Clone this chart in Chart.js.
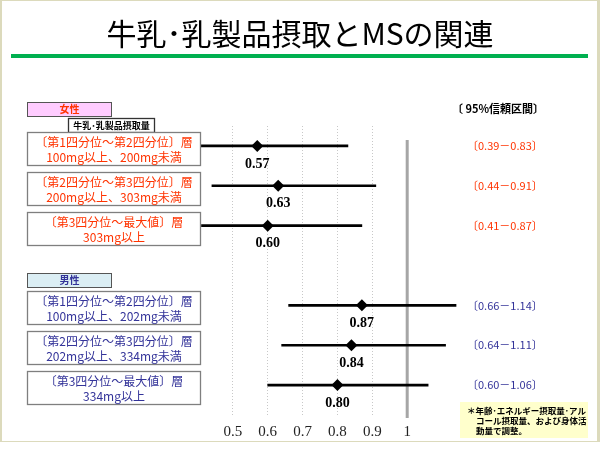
<!DOCTYPE html>
<html>
<head>
<meta charset="utf-8">
<script src="https://cdn.jsdelivr.net/npm/chart.js@4/dist/chart.umd.min.js"></script>
<style>
  html, body { margin: 0; padding: 0; background: #fff; }
  canvas { display: block; }
</style>
</head>
<body>
<canvas id="chart" width="600" height="450"></canvas>
<script>
// data
const strata = ['〔第1四分位～第2四分位〕層', '〔第2四分位～第3四分位〕層', '〔第3四分位～最大値〕層'];
const femaleRanges = ['100mg以上、200mg未満', '200mg以上、303mg未満', '303mg以上'];
const maleRanges = ['100mg以上、202mg未満', '202mg以上、334mg未満', '334mg以上'];
const femaleOR = [0.57, 0.63, 0.60];
const femaleLow = [0.39, 0.44, 0.41];
const femaleHigh = [0.83, 0.91, 0.87];
const maleOR = [0.87, 0.84, 0.80];
const maleLow = [0.66, 0.64, 0.60];
const maleHigh = [1.14, 1.11, 1.06];
const xTicks = [0.5, 0.6, 0.7, 0.8, 0.9, 1];

const rowKeys = ['女性1', '女性2', '女性3', '', '男性1', '男性2', '男性3'];
const FEMALE = '#ff3300';
const MALE = '#333399';
const JP = '"Noto Sans CJK JP", "Noto Sans", sans-serif';
const SERIF = '"Liberation Serif", "DejaVu Serif", serif';

const orData = [...femaleOR, null, ...maleOR];
const ciData = [
    ...femaleLow.map((lo, i) => [lo, femaleHigh[i]]),
    null,
    ...maleLow.map((lo, i) => [lo, maleHigh[i]])
];

function rect(ctx, x, y, w, h, fill, stroke, lw) {
    if (fill) { ctx.fillStyle = fill; ctx.fillRect(x, y, w, h); }
    if (stroke) { ctx.strokeStyle = stroke; ctx.lineWidth = lw || 1; ctx.strokeRect(x, y, w, h); }
}

function text(ctx, str, x, y, font, color, align) {
    ctx.font = font;
    ctx.fillStyle = color;
    ctx.textAlign = align || 'left';
    ctx.textBaseline = 'middle';
    ctx.fillText(str, x, y);
}

const slide = {
    id: 'slide',
    beforeDraw(chart) {
        const ctx = chart.ctx;
        ctx.save();
        ctx.fillStyle = '#fff';
        ctx.fillRect(0, 0, 600, 450);
        // beige frame
        ctx.fillStyle = '#dcdabc';
        ctx.fillRect(0, 0, 600, 1);
        ctx.fillRect(0, 0, 2, 442);
        ctx.fillRect(597, 0, 3, 442);
        ctx.fillRect(0, 441, 600, 1);
        // green rule under the title
        ctx.fillStyle = '#00b050';
        ctx.fillRect(11, 54, 577, 4);
        ctx.restore();
    },
    beforeDatasetsDraw(chart) {
        const ctx = chart.ctx;
        const x1 = chart.scales.x.getPixelForValue(1);
        ctx.save();
        ctx.strokeStyle = '#a6a6a6';
        ctx.lineWidth = 3;
        ctx.beginPath();
        ctx.moveTo(x1, 140);
        ctx.lineTo(x1, 418);
        ctx.stroke();
        ctx.restore();
    },
    afterDraw(chart) {
        const ctx = chart.ctx;
        const xs = chart.scales.x;
        const ys = chart.scales.y;
        ctx.save();

        // group headers
        rect(ctx, 27.5, 102.5, 84, 14, '#ffccff', '#555', 1);
        text(ctx, '女性', 69.5, 109.5, 'bold 10px ' + JP, FEMALE, 'center');
        rect(ctx, 68.5, 118.5, 86, 14, '#fff', '#333', 1.3);
        text(ctx, '牛乳･乳製品摂取量', 111.5, 125.5, 'bold 9px ' + JP, '#000', 'center');
        rect(ctx, 27.5, 273.5, 84, 14, '#dbeef4', '#555', 1);
        text(ctx, '男性', 69.5, 280.5, 'bold 10px ' + JP, MALE, 'center');

        text(ctx, '〔 95%信頼区間〕', 452, 109, 'bold 11px ' + JP, '#000');

        const groups = [
            { start: 0, ranges: femaleRanges, or: femaleOR, lo: femaleLow, hi: femaleHigh, color: FEMALE },
            { start: 4, ranges: maleRanges, or: maleOR, lo: maleLow, hi: maleHigh, color: MALE }
        ];
        groups.forEach(g => {
            g.or.forEach((v, i) => {
                const y = ys.getPixelForValue(g.start + i);
                const cy = Math.round(y + 3);
                rect(ctx, 27.5, cy - 16.5, 173, 33, '#fff', '#7f7f7f', 1.3);
                text(ctx, strata[i], 114, cy - 7, '12px ' + JP, g.color, 'center');
                text(ctx, g.ranges[i], 114, cy + 8, '12px ' + JP, g.color, 'center');

                text(ctx, v.toFixed(2), xs.getPixelForValue(v), y + 18, 'bold 14px ' + SERIF, '#000', 'center');
                text(ctx, '〔' + g.lo[i].toFixed(2) + '－' + g.hi[i].toFixed(2) + '〕', 467, y, '11px ' + JP, g.color);
            });
        });

        // footnote
        rect(ctx, 460, 402, 128, 36, '#ffffcc');
        text(ctx, '＊年齢･エネルギー摂取量･アル', 467, 411, 'bold 8.5px ' + JP, '#000');
        text(ctx, 'コール摂取量、および身体活', 476, 421, 'bold 8.5px ' + JP, '#000');
        text(ctx, '動量で調整。', 476, 431, 'bold 8.5px ' + JP, '#000');

        ctx.restore();
    }
};

new Chart(document.getElementById('chart'), {
    data: {
        labels: rowKeys,
        datasets: [
            {
                type: 'bar',
                label: '95%信頼区間',
                data: ciData,
                backgroundColor: '#000',
                borderWidth: 0,
                barThickness: 2
            },
            {
                type: 'line',
                label: 'オッズ比',
                data: orData,
                showLine: false,
                pointStyle: 'rectRot',
                pointRadius: 6,
                pointBackgroundColor: '#000',
                pointBorderColor: '#000',
                pointBorderWidth: 0
            }
        ]
    },
    options: {
        indexAxis: 'y',
        responsive: false,
        animation: false,
        layout: { padding: { top: 0, bottom: 1, left: 0, right: 0 } },
        scales: {
            x: {
                type: 'linear',
                min: 0.38,
                max: 1.16,
                afterBuildTicks: s => { s.ticks = xTicks.map(v => ({ value: v })); },
                grid: {
                    color: c => (c.tick && c.tick.value === 1) ? 'rgba(0,0,0,0)' : '#c8c8c8',
                    tickColor: c => (c.tick && c.tick.value === 1) ? 'rgba(0,0,0,0)' : '#c8c8c8',
                    tickLength: 10,
                    tickBorderDash: [1, 2]
                },
                border: { display: false, dash: [1, 2] },
                ticks: {
                    font: { family: SERIF, size: 15 },
                    color: '#222',
                    padding: 8,
                    callback: v => String(v)
                }
            },
            y: {
                type: 'category',
                position: 'left',
                offset: true,
                grid: { display: false },
                border: { display: false },
                ticks: { display: false },
                afterFit: s => { s.width = 191; }
            },
            yRight: {
                type: 'linear',
                position: 'right',
                grid: { display: false },
                border: { display: false },
                ticks: { display: false },
                afterFit: s => { s.width = 137; }
            }
        },
        plugins: {
            legend: { display: false },
            tooltip: { enabled: false },
            title: {
                display: true,
                text: '牛乳･乳製品摂取とMSの関連',
                color: '#000',
                font: { family: JP, size: 30, weight: 'normal' },
                padding: { top: 16, bottom: 74 }
            }
        }
    },
    plugins: [slide]
});
</script>
</body>
</html>
